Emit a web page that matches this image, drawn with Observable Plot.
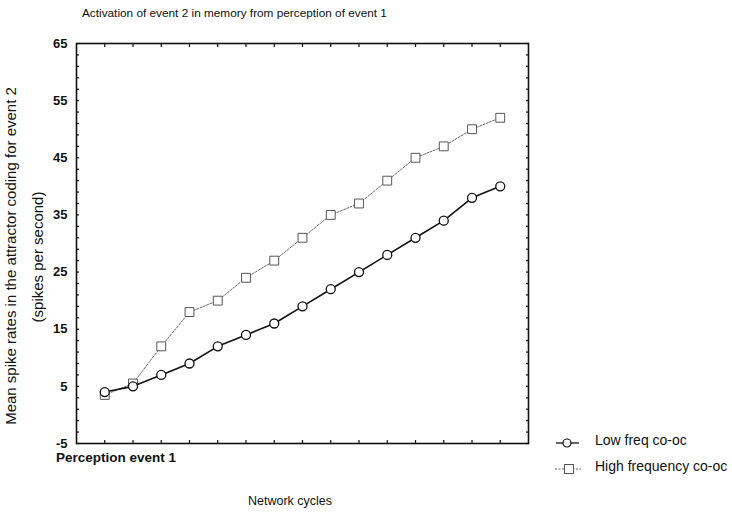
<!DOCTYPE html>
<html><head><meta charset="utf-8">
<script src="https://cdn.jsdelivr.net/npm/d3@7"></script>
<script src="https://cdn.jsdelivr.net/npm/@observablehq/plot@0.6"></script>
<style>body{margin:0;background:#fff} svg{display:block}</style>
</head><body><div id="chart"></div>
<script>
const title = "Activation of event 2 in memory from perception of event 1";
const yTitleLine1 = "Mean spike rates in the attractor coding for event 2";
const yTitleLine2 = "(spikes per second)";
const xStartLabel = "Perception event 1";
const xTitle = "Network cycles";
const seriesNames = ["Low freq co-oc", "High frequency co-oc"];
const cycles = [0,1,2,3,4,5,6,7,8,9,10,11,12,13,14];
const lowFreq = [4,5,7,9,12,14,16,19,22,25,28,31,34,38,40];
const highFreq = [3.5,5.5,12,18,20,24,27,31,35,37,41,45,47,50,52];
const yTickLabels = [-5,5,15,25,35,45,55,65];
const yMinorTicks = d3.range(-5, 66, 2);
const xTicks = cycles;

const lowData = cycles.map((c, i) => ({cycle: c, value: lowFreq[i]}));
const highData = cycles.map((c, i) => ({cycle: c, value: highFreq[i]}));

const font = "'Liberation Sans', Arial, sans-serif";
const chart = Plot.plot({
  width: 732, height: 512,
  marginLeft: 76, marginRight: 204, marginTop: 43, marginBottom: 69,
  x: {domain: [-1, 15]},
  y: {domain: [-5, 65]},
  style: {fontFamily: font, background: "white", color: "#111"},
  marks: [
    Plot.axisY(yMinorTicks, {anchor: "left", tickSize: -3, tickFormat: () => "", label: null, strokeWidth: 1.2}),
    Plot.axisY(yMinorTicks, {anchor: "right", tickSize: -3, tickFormat: () => "", label: null, strokeWidth: 1.2}),
    Plot.axisY(yTickLabels, {anchor: "left", tickSize: 0, tickPadding: 9, fontSize: 13, fontWeight: "bold", label: null, tickFormat: d => String(d)}),
    Plot.axisX(xTicks, {anchor: "bottom", tickSize: -3, tickFormat: () => "", label: null, strokeWidth: 1.2}),
    Plot.axisX(xTicks, {anchor: "top", tickSize: -3, tickFormat: () => "", label: null, strokeWidth: 1.2}),
    Plot.line(highData, {x: "cycle", y: "value", stroke: "#666", strokeWidth: 1, strokeDasharray: "2,1.5"}),
    Plot.dot(highData, {x: "cycle", y: "value", symbol: "square", r: 5, stroke: "#555", fill: "white", strokeWidth: 1}),
    Plot.line(lowData, {x: "cycle", y: "value", stroke: "#111", strokeWidth: 1.6}),
    Plot.dot(lowData, {x: "cycle", y: "value", r: 4.5, stroke: "#111", fill: "white", strokeWidth: 1.3}),
    Plot.frame({stroke: "#111", strokeWidth: 1.6})
  ]
});
document.getElementById("chart").appendChild(chart);

const svg = d3.select(chart);
const txt = (x, y, s, opts = {}) => {
  const t = svg.append("text").attr("x", x).attr("y", y).text(s)
    .attr("font-family", font).attr("font-size", opts.size || 12)
    .attr("fill", "#111").attr("text-anchor", opts.anchor || "start");
  if (opts.weight) t.attr("font-weight", opts.weight);
  if (opts.rotate) t.attr("transform", `rotate(-90,${x},${y})`);
  return t;
};
txt(82, 17, title, {size: 11.8});
txt(56, 462, xStartLabel, {size: 13.5, weight: "bold"});
txt(290, 505, xTitle, {size: 12.5, anchor: "middle"});
txt(16, 256, yTitleLine1, {size: 15, anchor: "middle", rotate: true});
txt(43, 257, yTitleLine2, {size: 15, anchor: "middle", rotate: true});

// legend
const lg = svg.append("g");
lg.append("line").attr("x1", 556).attr("x2", 579).attr("y1", 443).attr("y2", 443).attr("stroke", "#111").attr("stroke-width", 1.3);
lg.append("circle").attr("cx", 567).attr("cy", 443).attr("r", 4).attr("fill", "white").attr("stroke", "#111").attr("stroke-width", 1.2);
lg.append("line").attr("x1", 555).attr("x2", 581).attr("y1", 469).attr("y2", 469).attr("stroke", "#666").attr("stroke-width", 1).attr("stroke-dasharray", "2,1.5");
lg.append("rect").attr("x", 564.5).attr("y", 464.5).attr("width", 9).attr("height", 9).attr("fill", "white").attr("stroke", "#555").attr("stroke-width", 1);
txt(595, 445, seriesNames[0], {size: 14});
txt(595, 471, seriesNames[1], {size: 14});
</script></body></html>
